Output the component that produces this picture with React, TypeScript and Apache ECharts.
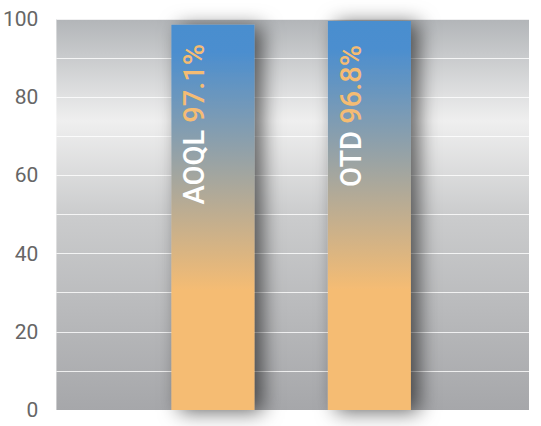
import React, { useEffect, useRef } from "react";
import * as echarts from "echarts";

const categoryPositions = [1, 2];
const barValues = [98.5, 99.5];
const labelNames = ["AOQL", "OTD"];
const labelPercents = ["97.1%", "96.8%"];
const labelDistances = [19, 24];

export default function App() {
  const ref = useRef<HTMLDivElement>(null);
  useEffect(() => {
    if (!ref.current) return;
    const chart = echarts.init(ref.current, null, { renderer: "svg" });
    const barGradient = new echarts.graphic.LinearGradient(0, 0, 0, 1, [
      { offset: 0, color: "#4a8ecf" },
      { offset: 0.07, color: "#4b8ecf" },
      { offset: 0.69, color: "#f5bc73" },
      { offset: 1, color: "#f5bc73" },
    ]);
    const bgGradient = new echarts.graphic.LinearGradient(0, 0, 0, 1, [
      { offset: 0, color: "#b2b5b8" },
      { offset: 0.26, color: "#efefef" },
      { offset: 0.5, color: "#cbcccd" },
      { offset: 1, color: "#a6a7aa" },
    ]);
    const data = barValues.map((v, i) => ({
      value: [categoryPositions[i], v],
      label: {
        show: true,
        distance: labelDistances[i],
        formatter: `{a|${labelNames[i]}} {b|${labelPercents[i]}}`,
      },
    }));
    chart.setOption({
      animation: false,
      grid: {
        left: 54,
        right: 12,
        top: 19,
        bottom: 16,
        show: true,
        borderWidth: 0,
        backgroundColor: bgGradient,
      },
      xAxis: {
        type: "value",
        min: 0,
        max: 3.02,
        axisLine: { show: false },
        axisTick: { show: false },
        axisLabel: { show: false },
        splitLine: { show: false },
      },
      yAxis: {
        type: "value",
        min: 0,
        max: 100,
        interval: 10,
        axisLine: { show: false },
        axisTick: { show: false },
        axisLabel: {
          formatter: (v: number) => (v % 20 === 0 ? String(v) : ""),
          color: "#666666",
          fontSize: 21,
          fontFamily: "Roboto",
          margin: 18,
        },
        splitLine: {
          lineStyle: { color: "rgba(255,255,255,0.8)", width: 1.2 },
        },
      },
      series: [
        {
          type: "bar",
          barWidth: 83,
          data,
          itemStyle: {
            color: barGradient,
            shadowColor: "rgba(0,0,0,0.6)",
            shadowBlur: 20,
            shadowOffsetX: 8,
            shadowOffsetY: 2,
          },
          label: {
            show: true,
            position: "insideTop",
            rotate: 90,
            align: "right",
            verticalAlign: "bottom",
            fontFamily: "Roboto",
            fontSize: 29,
            lineHeight: 37,
            rich: {
              a: { color: "#ffffff", fontSize: 29, fontWeight: 500, fontFamily: "Roboto", lineHeight: 37 },
              b: { color: "#f5bc73", fontSize: 29, fontWeight: 500, fontFamily: "Roboto", lineHeight: 37 },
            },
          },
        },
      ],
    });
    return () => chart.dispose();
  }, []);
  return (
    <div
      ref={ref}
      style={{ position: "fixed", left: 0, top: 0, width: 541, height: 426, background: "#ffffff" }}
    />
  );
}
